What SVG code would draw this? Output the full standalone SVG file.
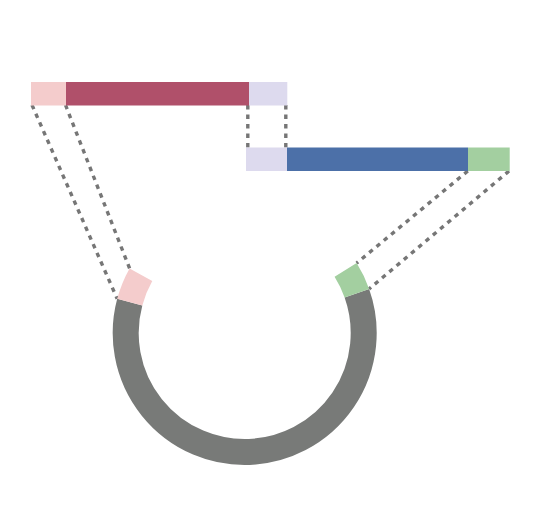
<svg xmlns="http://www.w3.org/2000/svg" width="533" height="532" viewBox="0 0 533 532">
<style>
.dot{fill:none;stroke:#767676;stroke-width:3.4;stroke-dasharray:4.5 5}
.ring{fill:none;stroke-width:26;stroke-linecap:butt}
</style>
<rect width="533" height="532" fill="#ffffff"/>
<g id="connectors">
<line class="dot" x1="32" y1="105" x2="117.2" y2="298.8"/>
<line class="dot" x1="65.5" y1="105" x2="129.6" y2="268.4"/>
<line class="dot" x1="247.8" y1="105" x2="247.8" y2="148"/>
<line class="dot" x1="285.8" y1="105" x2="285.8" y2="148"/>
<line class="dot" x1="467.8" y1="171" x2="356.6" y2="263.1"/>
<line class="dot" x1="509" y1="171" x2="369.1" y2="288.9"/>
</g>
<g id="fragment1">
<rect x="31" y="82" width="35" height="23.5" fill="#f4cccc"/>
<rect x="66" y="82" width="183" height="23.5" fill="#b0506a"/>
<rect x="249" y="82" width="38.3" height="23.5" fill="#dddaee"/>
</g>
<g id="fragment2">
<rect x="246" y="147.5" width="41" height="23.5" fill="#dddaee"/>
<rect x="287" y="147.5" width="181" height="23.5" fill="#4c70a8"/>
<rect x="468" y="147.5" width="41.7" height="23.5" fill="#a3cfa0"/>
</g>
<g id="vector">
<path class="ring" stroke="#787a78" d="M356.87 293.28 A119 119 0 1 1 129.75 302.20"/>
<path class="ring" stroke="#f4cccc" d="M129.75 302.20 A119 119 0 0 1 140.92 274.76"/>
<path class="ring" stroke="#a3cfa0" d="M345.61 269.94 A119 119 0 0 1 356.87 293.28"/>
</g>
</svg>
